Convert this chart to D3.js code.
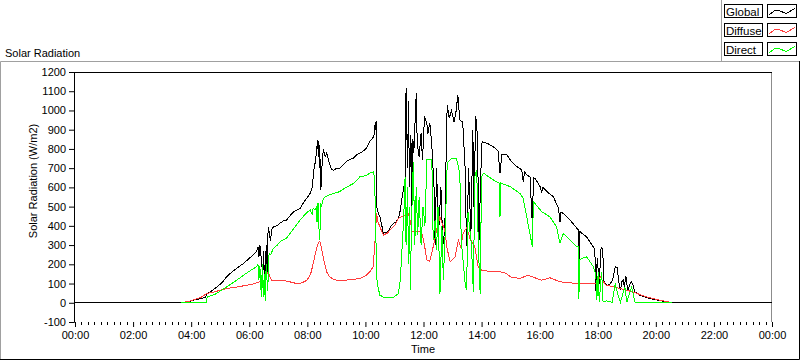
<!DOCTYPE html>
<html>
<head>
<meta charset="utf-8">
<script src="https://cdn.jsdelivr.net/npm/d3@7"></script>
<style>
  body { margin: 0; background: #fff; }
  text { font-family: 'Liberation Sans', Arial, sans-serif; font-size: 11px; fill: #000; }
</style>
</head>
<body>
<div id="vis"></div>
<script>
// time of day in minutes, value in W/m2
const globalPts = [
  [0, 0], [220, 0], [226, 3], [234, 6], [244, 13], [256, 20], [266, 26], [270, 28], [272, 45], [280, 58],
  [292, 80], [304, 105], [313, 135], [322, 155], [330, 172], [340, 190], [348, 204], [356, 222], [364, 240],
  [372, 258], [375, 265], [378, 290], [380, 240], [382, 300], [384, 250], [386, 200], [388, 140], [390, 270],
  [391, 130], [393, 128], [395, 300], [397, 160], [399, 395], [401, 370], [404, 320], [406, 380], [410, 395],
  [417, 400], [424, 415], [430, 425], [437, 430], [443, 448], [450, 470], [458, 482], [465, 491], [472, 520],
  [479, 545], [486, 569], [490, 600], [494, 700], [496, 726], [499, 780], [501, 845], [503, 760], [504, 840],
  [505, 700], [506, 790], [507, 600], [508, 587], [510, 700], [513, 800], [517, 760], [520, 778], [525, 730],
  [530, 691], [535, 690], [541, 700], [547, 700], [555, 720], [563, 740], [575, 752], [582, 770], [589, 778],
  [596, 790], [602, 805], [609, 838], [613, 850], [616, 860], [619, 880], [620, 934], [621, 900], [622, 943],
  [623, 500], [626, 470], [630, 447], [634, 400], [637, 361], [642, 365], [647, 370], [652, 395], [658, 413],
  [663, 420], [668, 439], [672, 480], [675, 534], [679, 600], [682, 639], [684, 1117], [687, 700], [689, 1050],
  [691, 600], [694, 870], [696, 466], [698, 850], [700, 780], [705, 1091], [707, 830], [711, 760], [715, 880],
  [718, 740], [722, 969], [727, 930], [729, 880], [733, 934], [737, 830], [742, 587], [744, 300], [747, 700],
  [751, 350], [756, 600], [760, 300], [764, 378], [767, 800], [769, 1030], [773, 960], [778, 1000], [783, 940],
  [787, 990], [791, 1082], [795, 950], [801, 940], [806, 700], [808, 413], [810, 290], [813, 700], [818, 360],
  [822, 900], [824, 500], [828, 969], [831, 880], [835, 326], [838, 650], [841, 838], [851, 830], [864, 812],
  [874, 790], [878, 674], [882, 769], [892, 769], [902, 734], [913, 708], [923, 691], [926, 630], [929, 680],
  [933, 665], [940, 655], [945, 395], [947, 650], [950, 648], [961, 604], [964, 578], [967, 600], [975, 578],
  [988, 552], [999, 491], [1002, 421], [1004, 470], [1009, 465], [1023, 430], [1037, 387], [1040, 380],
  [1041, 117], [1043, 370], [1057, 343], [1068, 300], [1074, 280], [1076, 60], [1079, 230], [1083, 100],
  [1087, 290], [1090, 280], [1093, 110], [1098, 91], [1105, 95], [1111, 120], [1116, 187], [1120, 185],
  [1124, 100], [1127, 65], [1130, 110], [1133, 117], [1135, 80], [1138, 140], [1142, 60], [1147, 100],
  [1150, 109], [1153, 90], [1157, 56], [1167, 39], [1188, 22], [1209, 11], [1229, 3], [1233, 0], [1440, 0]
]

// diffuse and direct are only logged between sunrise and sunset
const diffusePts = [
  [220, 0], [226, 3], [240, 10], [250, 20], [260, 28], [272, 48], [290, 58], [313, 74], [330, 80],
  [348, 88], [365, 96], [380, 108], [388, 112], [392, 120], [396, 150], [399, 161], [402, 140], [406, 118],
  [410, 117], [420, 115], [437, 113], [450, 105], [458, 100], [466, 102], [472, 108], [479, 117], [484, 135],
  [488, 160], [492, 204], [497, 260], [501, 300], [504, 317], [506, 320], [508, 300], [512, 250], [516, 200],
  [520, 160], [526, 135], [532, 125], [541, 117], [550, 116], [560, 118], [575, 122], [589, 126], [600, 140],
  [609, 160], [616, 187], [620, 326], [623, 465], [626, 420], [630, 395], [637, 352], [645, 362], [652, 380],
  [660, 400], [668, 440], [675, 447], [682, 455], [689, 465], [694, 410], [696, 369], [705, 369], [716, 369],
  [722, 300], [727, 222], [733, 215], [740, 291], [747, 378], [754, 447], [759, 410], [764, 380], [768, 291],
  [775, 213], [785, 239], [792, 326], [797, 291], [802, 361], [809, 390], [816, 335], [826, 291], [833, 187],
  [840, 169], [864, 161], [878, 161], [892, 152], [899, 135], [919, 126], [935, 143], [950, 130], [964, 117],
  [981, 130], [1002, 109], [1037, 100], [1057, 100], [1078, 100], [1085, 135], [1091, 110], [1098, 91],
  [1127, 74], [1153, 56], [1181, 30], [1209, 13], [1229, 3], [1233, 0]
]

const directPts = [
  [220, 0], [272, 0], [273, 30], [290, 45], [313, 82], [330, 110], [348, 143], [365, 172], [375, 187], [378, 200],
  [380, 120], [382, 190], [385, 30], [387, 200], [389, 30], [391, 150], [393, 10], [395, 200], [398, 60],
  [401, 258], [404, 250], [410, 283], [418, 300], [425, 320], [437, 335], [450, 380], [465, 430], [472, 450],
  [479, 470], [486, 482], [490, 460], [492, 490], [496, 482], [499, 500], [500, 420], [502, 520], [503, 460],
  [505, 326], [506, 340], [507, 520], [509, 500], [513, 543], [520, 555], [530, 565], [547, 578], [560, 600],
  [575, 620], [589, 656], [600, 660], [609, 674], [616, 680], [619, 650], [620, 534], [622, 300], [623, 135],
  [626, 80], [630, 39], [637, 30], [647, 25], [658, 28], [668, 48], [672, 117], [675, 250], [679, 430],
  [682, 656], [684, 300], [687, 600], [689, 200], [691, 500], [693, 65], [695, 400], [699, 734], [702, 300],
  [705, 600], [708, 350], [711, 550], [715, 300], [719, 500], [723, 400], [727, 743], [737, 743], [738, 656],
  [740, 326], [744, 430], [747, 274], [750, 500], [754, 48], [758, 400], [761, 117], [765, 380], [769, 726],
  [778, 752], [788, 752], [795, 674], [798, 326], [806, 100], [809, 65], [812, 470], [819, 300], [823, 56],
  [826, 656], [830, 691], [833, 326], [837, 48], [840, 656], [844, 674], [864, 639], [876, 622], [878, 447],
  [880, 622], [899, 604], [919, 569], [926, 543], [945, 291], [947, 526], [964, 474], [981, 447], [995, 395],
  [1002, 309], [1009, 361], [1023, 326], [1037, 291], [1040, 290], [1041, 22], [1043, 226], [1057, 239],
  [1071, 187], [1076, 150], [1078, 13], [1081, 161], [1083, 5], [1088, 161], [1091, 5], [1098, 10], [1110, 3],
  [1116, 100], [1122, 40], [1127, 3], [1136, 82], [1140, 3], [1150, 82], [1157, 3], [1167, 0], [1233, 0]
]

const seriesNames = ['Global', 'Diffuse', 'Direct']
const seriesColors = ['#000000', '#ff3c3c', '#00ff00']
const yTicks = [-100, 0, 100, 200, 300, 400, 500, 600, 700, 800, 900, 1000, 1100, 1200]
const timeLabels = ['00:00', '02:00', '04:00', '06:00', '08:00', '10:00', '12:00', '14:00', '16:00', '18:00', '20:00', '22:00', '00:00']

const w = 800,
  h = 361

const svg = d3.select('#vis').append('svg').attr('width', w).attr('height', h)

const x = d3.scaleLinear().domain([0, 1440]).range([75, 772])
const y = d3.scaleLinear().domain([-100, 1200]).range([322, 72])

// outer panel frame
svg.append('path').attr('d', 'M0.5,359V61.5H799').attr('fill', 'none').attr('stroke', '#a0a0a0')
svg.append('path').attr('d', 'M0,359.5H799.5V61').attr('fill', 'none').attr('stroke', '#000')
svg.append('line').attr('x1', 721.5).attr('x2', 721.5).attr('y1', 0).attr('y2', 61).attr('stroke', '#a0a0a0')

svg.append('text').attr('x', 5).attr('y', 56.5).text('Solar Radiation')

// plot frame
svg.append('path').attr('d', 'M74.5,72.5H771.5V322').attr('fill', 'none').attr('stroke', '#8c8c8c')
svg.append('line').attr('x1', 74).attr('x2', 772).attr('y1', 72.5).attr('y2', 72.5).attr('stroke', '#000')

// y axis
const yAxis = svg
  .append('g')
  .attr('transform', 'translate(74,0)')
  .call(
    d3.axisLeft(y).tickValues(yTicks).tickSize(5).tickPadding(3).tickFormat(function (d) {
      return String(d)
    }),
  )
yAxis.select('.domain').attr('stroke', '#000')
yAxis.selectAll('text').style('font-size', '11px').attr('fill', '#000')

// x axis major + minor ticks
const majorTicks = d3.range(0, 1441, 120)
const minorTicks = d3.range(0, 1441, 120 / 9).filter(function (d) {
  return Math.abs(d / 120 - Math.round(d / 120)) > 0.01
})

const xAxis = svg
  .append('g')
  .attr('transform', 'translate(0,322)')
  .call(
    d3.axisBottom(x).tickValues(majorTicks).tickSize(5).tickPadding(4).tickFormat(function (d, i) {
      return timeLabels[i]
    }),
  )
xAxis.select('.domain').remove()
xAxis.selectAll('text').style('font-size', '11px').attr('fill', '#000')

svg
  .append('g')
  .selectAll('line')
  .data(minorTicks)
  .enter()
  .append('line')
  .attr('x1', function (d) {
    return Math.round(x(d)) + 0.5
  })
  .attr('x2', function (d) {
    return Math.round(x(d)) + 0.5
  })
  .attr('y1', 322)
  .attr('y2', 325)
  .attr('stroke', '#000')

svg
  .append('text')
  .attr('x', 423)
  .attr('y', 353)
  .attr('text-anchor', 'middle')
  .text('Time')

svg
  .append('text')
  .attr('transform', 'translate(37,181)rotate(-90)')
  .attr('text-anchor', 'middle')
  .text('Solar Radiation (W/m2)')

// plots
svg
  .append('clipPath')
  .attr('id', 'clip')
  .append('rect')
  .attr('x', 75)
  .attr('y', 73)
  .attr('width', 697)
  .attr('height', 249)

const line = d3
  .line()
  .x(function (d) {
    return x(d[0])
  })
  .y(function (d) {
    return y(d[1])
  })

const plotData = [globalPts, diffusePts, directPts]

svg
  .append('g')
  .attr('clip-path', 'url(#clip)')
  .selectAll('path')
  .data(plotData)
  .enter()
  .append('path')
  .attr('d', line)
  .attr('fill', 'none')
  .attr('stroke', function (d, i) {
    return seriesColors[i]
  })
  .attr('stroke-width', 1)
  .style('shape-rendering', 'crispEdges')

// legend
const legend = svg
  .append('g')
  .selectAll('g')
  .data(seriesNames)
  .enter()
  .append('g')
  .attr('transform', function (d, i) {
    return 'translate(0,' + i * 19 + ')'
  })

legend
  .append('rect')
  .attr('x', 724.5)
  .attr('y', 4.5)
  .attr('width', 38)
  .attr('height', 13)
  .attr('fill', '#fff')
  .attr('stroke', '#000')

legend
  .append('text')
  .attr('x', 726)
  .attr('y', 15.5)
  .style('font-size', '11.5px')
  .text(function (d) {
    return d
  })

legend
  .append('rect')
  .attr('x', 767.5)
  .attr('y', 4.5)
  .attr('width', 29)
  .attr('height', 13)
  .attr('fill', '#fff')
  .attr('stroke', '#000')

legend
  .append('path')
  .attr('d', 'M769,15L775,10.5L780,11L786,13.5L795,8.5')
  .attr('fill', 'none')
  .attr('stroke', function (d, i) {
    return seriesColors[i]
  })
  .style('shape-rendering', 'crispEdges')
</script>
</body>
</html>
